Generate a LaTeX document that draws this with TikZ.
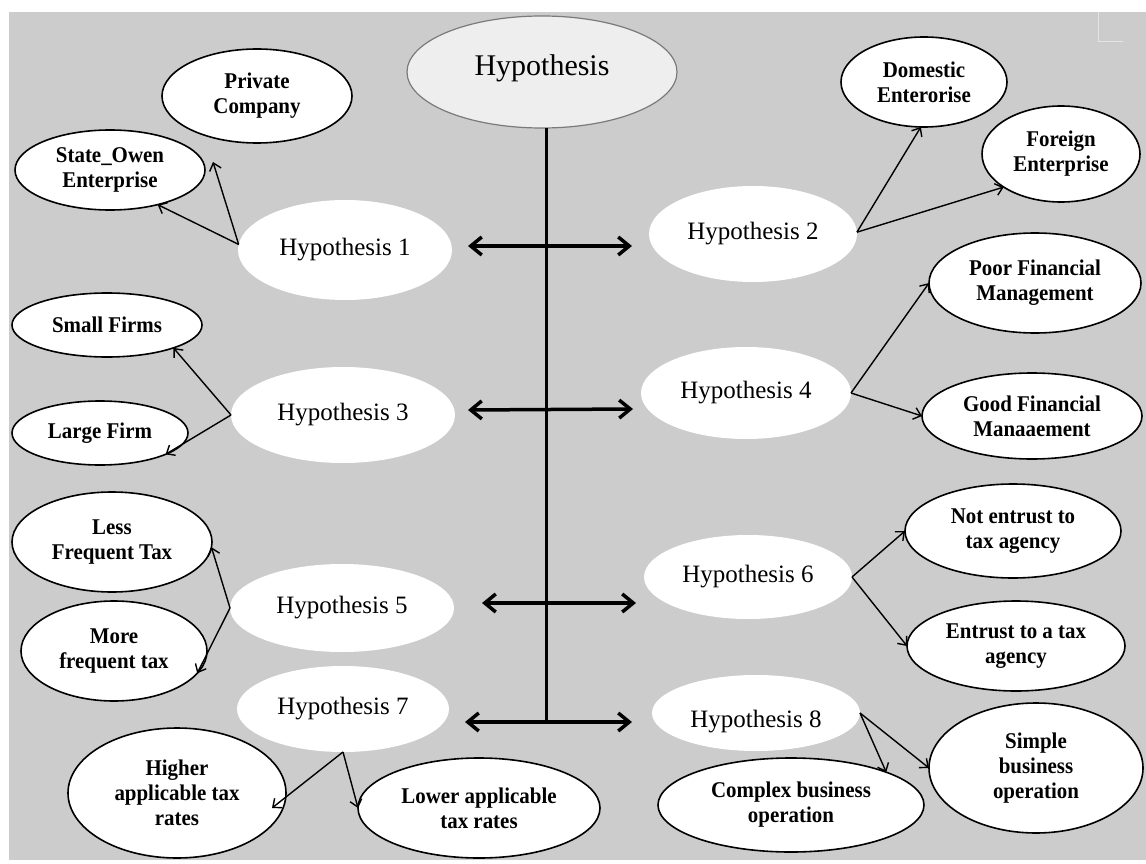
\documentclass[tikz,border=0pt]{standalone}
\usepackage{fontspec}
\setmainfont{Liberation Serif}
\newfontfamily\leaffont[FakeStretch=0.93]{Liberation Serif}
\usetikzlibrary{arrows.meta,shapes.geometric}
\definecolor{bggray}{HTML}{CCCCCC}
\definecolor{hubfill}{HTML}{EEEEEE}
\definecolor{hubline}{HTML}{7A7A7A}
\definecolor{markgray}{HTML}{E4E4E4}
\begin{document}
\begin{tikzpicture}[x=1pt,y=-1pt,
  hub/.style={ellipse, draw=hubline, line width=1.2pt, fill=hubfill, inner sep=0pt, outer sep=0pt,
    font=\fontsize{30}{34}\selectfont},
  hyp/.style={ellipse, fill=white, inner sep=0pt, outer sep=0pt, font=\fontsize{25}{29}\selectfont},
  leaf/.style={ellipse, draw=black, line width=1.6pt, fill=white, inner sep=0pt, outer sep=0pt,
    align=center, font=\leaffont\fontsize{22.5}{25}\selectfont\bfseries},
  sz/.style 2 args={minimum width=#1pt, minimum height=#2pt},
  link/.style={line width=1.4pt, -{Straight Barb[length=7pt,width=12pt]}},
  bigarrow/.style={line width=3.5pt, {Straight Barb[length=11pt,width=18pt]}-{Straight Barb[length=11pt,width=18pt]}},
  spine/.style={line width=3pt},
  cornermark/.style={draw=markgray, line width=1pt}]

% background
\fill[white] (0,0) rectangle (1146,864);
\fill[bggray] (9,12) rectangle (1146,860);
\coordinate (mk1) at (1098,12);
\coordinate (mk2) at (1098,42);
\coordinate (mk3) at (1123,42);
\draw[cornermark] (mk1) -- (mk2) -- (mk3);

% central hub
\node[hub, sz={270}{112}] (hub) at (542,72) {\raisebox{4pt}[\height][\depth]{Hypothesis}};

% hypothesis nodes
\node[hyp, sz={214}{100}] (h1) at (345,250) {Hypothesis 1};
\node[hyp, sz={208}{96}]  (h2) at (753,234) {Hypothesis 2};
\node[hyp, sz={224}{96}]  (h3) at (343,415) {Hypothesis 3};
\node[hyp, sz={210}{92}]  (h4) at (746,393) {Hypothesis 4};
\node[hyp, sz={224}{88}]  (h5) at (342,608) {Hypothesis 5};
\node[hyp, sz={208}{84}]  (h6) at (748,577) {Hypothesis 6};
\node[hyp, sz={212}{86}]  (h7) at (343,709) {Hypothesis 7};
\node[hyp, sz={208}{76}]  (h8) at (756,713) {\raisebox{-9pt}[\height][\depth]{Hypothesis 8}};

% leaf nodes
\node[leaf, sz={190}{94}]  (pc) at (257,96)  {Private\\Company};
\node[leaf, sz={190}{80}]  (so) at (110,170) {State\_Owen\\Enterprise};
\node[leaf, sz={166}{90}]  (de) at (924,82)  {Domestic\\Enterorise};
\node[leaf, sz={158}{96}]  (fe) at (1061,154) {Foreign\\Enterprise};
\node[leaf, sz={212}{100}] (pf) at (1035,283) {Poor Financial\\Management};
\node[leaf, sz={220}{86}]  (gf) at (1032,416) {Good Financial\\Manaaement};
\node[leaf, sz={190}{64}]  (sf) at (107,325) {Small Firms};
\node[leaf, sz={176}{64}]  (lf) at (100,433) {Large Firm};
\node[leaf, sz={200}{100}] (lt) at (112,542) {Less\\Frequent Tax};
\node[leaf, sz={186}{100}] (mt) at (114,651) {More\\frequent tax};
\node[leaf, sz={218}{130}] (ht) at (177,793) {Higher\\applicable tax\\rates};
\node[leaf, sz={242}{100}] (lr) at (479,808) {Lower applicable\\tax rates};
\node[leaf, sz={216}{94}]  (ne) at (1013,531) {Not entrust to\\tax agency};
\node[leaf, sz={218}{90}]  (et) at (1016,646) {Entrust to a tax\\agency};
\node[leaf, sz={266}{94}]  (cb) at (791,805) {Complex business\\operation};
\node[leaf, sz={214}{130}] (sb) at (1036,768) {Simple\\business\\operation};

% spine and main arrows
\coordinate (spbot) at (546,723);
\draw[spine] (spbot |- hub.south) -- (spbot);
\coordinate (a1l) at (468,246); \coordinate (a1r) at (632,246);
\coordinate (a3l) at (468,410); \coordinate (a3r) at (633,409);
\coordinate (a5l) at (482,603); \coordinate (a5r) at (636,603);
\coordinate (a7l) at (465,722); \coordinate (a7r) at (632,722);
\draw[bigarrow] (a1l) -- (a1r);
\draw[bigarrow] (a3l) -- (a3r);
\draw[bigarrow] (a5l) -- (a5r);
\draw[bigarrow] (a7l) -- (a7r);

% links
\coordinate (pctip) at (213,162);
\coordinate (httip) at (272,808);
\draw[link] (h1.177) -- (so.-36);
\draw[link] (h1.177) -- (pctip);
\draw[link] (h2.1) -- (de.266);
\draw[link] (h2.1) -- (fe.210);
\draw[link] (h3.west) -- (sf.-19);
\draw[link] (h3.west) -- (lf.-18);
\draw[link] (h4.east) -- (pf.west);
\draw[link] (h4.east) -- (gf.west);
\draw[link] (h5.west) -- (lt.-3);
\draw[link] (h5.west) -- (mt.-15);
\draw[link] (h6.east) -- (ne.west);
\draw[link] (h6.east) -- (et.west);
\draw[link] (h7.south) -- (httip);
\draw[link] (h7.south) -- (lr.west);
\draw[link] (h8.east) -- (cb.19);
\draw[link] (h8.east) -- (sb.west);
\end{tikzpicture}
\end{document}
